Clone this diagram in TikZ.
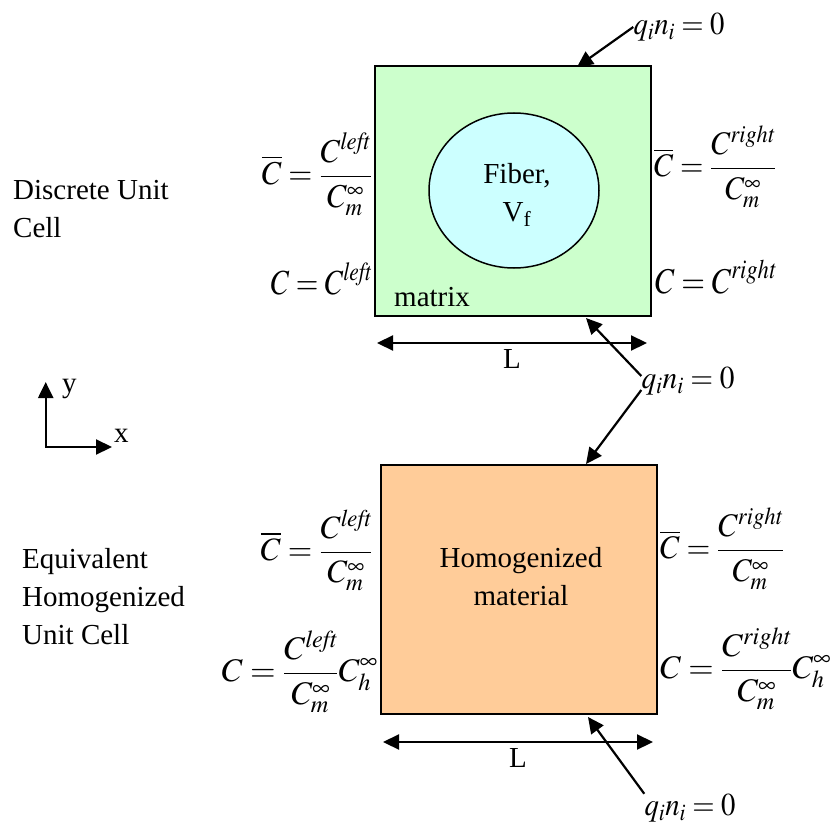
\documentclass[tikz,border=0pt]{standalone}
\usepackage{mathptmx}
\usepackage{fontspec}
\setmainfont{Liberation Serif}
\usepackage{graphicx}
\usetikzlibrary{positioning,arrows.meta,shapes.geometric}
\definecolor{matrixgreen}{HTML}{CCFFCC}
\definecolor{fibercyan}{HTML}{CCFFFF}
\definecolor{homorange}{HTML}{FFCC99}
\newcommand{\eqfit}[3]{\resizebox*{#1pt}{#2pt}{$\displaystyle #3$}}
\newcommand{\Cbar}{\overline{C}}
\tikzset{
  fig/.style={x=1pt,y=-1pt,font=\fontsize{29}{38}\selectfont},
  cell/.style={draw,line width=2pt,minimum width=276pt,inner sep=0pt},
  fiber/.style={ellipse,draw,line width=1.5pt,fill=fibercyan,
                minimum width=170pt,minimum height=155pt,inner sep=0pt},
  lbl/.style={inner sep=0pt,align=center},
  eq/.style={inner sep=0pt},
  ln/.style={-{Triangle[length=16pt,width=15pt]},line width=2.2pt},
  lnb/.style={{Triangle[length=16pt,width=15pt]}-{Triangle[length=16pt,width=15pt]},line width=2.2pt},
}
\begin{document}
\begin{tikzpicture}[fig]
\useasboundingbox (0,0) rectangle (833,824);

% --- discrete unit cell
\node[cell,fill=matrixgreen,minimum height=250pt] (cellA) at (513,191) {};
\node[fiber] (fiber) at (514,190.5) {};
\node[lbl] (fibertxt) at (517,195) {Fiber,\\V\textsubscript{f}};
\node[lbl,anchor=base west] (matrixtxt) at (394,306.5) {matrix};
\node[lbl,anchor=west,align=left] (discrete) at (13,209.5) {Discrete Unit\\Cell};

\node[eq,anchor=east] (eqAl) at (372,174.5)
  {\eqfit{110}{83}{\Cbar=\frac{C^{\mathit{left}}}{C_m^{\infty}}}};
\node[eq,anchor=east] (eqAlc) at (372,279)
  {\eqfit{101}{33}{C=C^{\mathit{left}}}};
\node[eq,anchor=west] (eqAr) at (654,167)
  {\eqfit{122}{82}{\Cbar=\frac{C^{\mathit{right}}}{C_m^{\infty}}}};
\node[eq,anchor=west] (eqArc) at (655,277)
  {\eqfit{121}{34}{C=C^{\mathit{right}}}};

\node[eq] (qtop) at (679,27) {\eqfit{91}{28}{q_in_i=0}};
\coordinate (qtopend) at (577,67);
\draw[ln] (qtop.west) -- (qtopend);

\coordinate (LAl) at (377,343);
\coordinate (LAr) at (647,343);
\draw[lnb] (LAl) -- node[lbl,below=5pt] (LAtxt) {L} (LAr);

% --- shared flux condition and axes
\node[eq] (qmid) at (688,381) {\eqfit{93}{28}{q_in_i=0}};
\coordinate (qmidup) at (586,318);
\coordinate (qmiddown) at (586,464);
\draw[ln] ([yshift=5pt]qmid.west) -- (qmidup);
\draw[ln] ([yshift=-9pt]qmid.west) -- (qmiddown);

\coordinate (origin) at (45.7,447);
\coordinate (ytip) at (45.7,382);
\coordinate (xtip) at (112,447);
\draw[lnb] (ytip) -- (origin) -- (xtip);
\node[lbl,anchor=base west] (ylab) at (62,392) {y};
\node[lbl,anchor=base west] (xlab) at (114,442) {x};

% --- homogenized unit cell
\node[cell,fill=homorange,minimum height=249pt] (cellB) at (519,589.5) {};
\node[lbl] (homtxt) at (521,577) {Homogenized\\material};
\node[lbl,anchor=west,align=left] (equiv) at (22,597) {Equivalent\\Homogenized\\Unit Cell};

\node[eq,anchor=east] (eqBl) at (373,550.5)
  {\eqfit{112}{81}{\Cbar=\frac{C^{\mathit{left}}}{C_m^{\infty}}}};
\node[eq,anchor=east] (eqBlc) at (378,672)
  {\eqfit{156}{82}{C=\frac{C^{\mathit{left}}}{C_m^{\infty}}C_h^{\infty}}};
\node[eq,anchor=west] (eqBr) at (660,549)
  {\eqfit{124}{82}{\Cbar=\frac{C^{\mathit{right}}}{C_m^{\infty}}}};
\node[eq,anchor=west] (eqBrc) at (660,669)
  {\eqfit{171}{82}{C=\frac{C^{\mathit{right}}}{C_m^{\infty}}C_h^{\infty}}};

\coordinate (LBl) at (383,742);
\coordinate (LBr) at (653,742);
\draw[lnb] (LBl) -- node[lbl,below=5pt] (LBtxt) {L} (LBr);

\node[eq] (qbot) at (690,808) {\eqfit{91}{28}{q_in_i=0}};
\coordinate (qbotend) at (588,717);
\draw[ln] (qbot.north west) -- (qbotend);

\end{tikzpicture}
\end{document}
